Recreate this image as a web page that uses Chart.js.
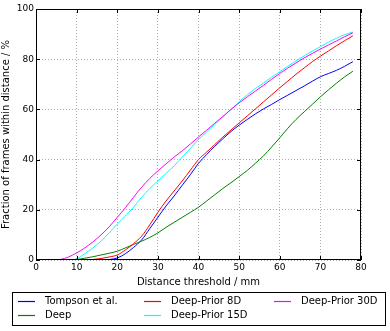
<!DOCTYPE html>
<html>
<head>
<meta charset="utf-8">
<script src="https://cdn.jsdelivr.net/npm/chart.js@4.4.1/dist/chart.umd.min.js"></script>
<style>
  html, body { margin: 0; padding: 0; background: #fff; }
  #wrap { width: 390px; height: 331px; }
</style>
</head>
<body>
<div id="wrap"><canvas id="chart" width="390" height="331"></canvas></div>
<script>
// distance thresholds (mm), one sample every 2 mm
const thresholds = [0, 2, 4, 6, 8, 10, 12, 14, 16, 18, 20, 22, 24, 26, 28, 30, 32, 34, 36, 38,
  40, 42, 44, 46, 48, 50, 52, 54, 56, 58, 60, 62, 64, 66, 68, 70, 72, 74, 76, 78];

const tompson = [0, 0, 0, 0, 0, 0, 0, 0, 0, 0.2, 0.8, 2.5, 5, 8, 12.5, 17, 21.5, 25.5, 29.8, 34,
  38.5, 42, 45.3, 48.3, 51.2, 53.7, 56, 58.2, 60.2, 62, 63.9, 65.7, 67.5, 69.3, 71.2, 73, 74.3, 75.6, 77.2, 79];
const deep = [0, 0, 0, 0, 0, 0.2, 0.7, 1.3, 2, 2.7, 3.5, 4.8, 6.2, 7.5, 9, 10.8, 13, 15, 17, 19,
  21, 23.5, 26, 28.5, 30.8, 33.2, 35.7, 38.5, 41.5, 45, 48.7, 52.5, 56, 59, 62, 65, 67.8, 70.5, 73, 75.2];
const prior8 = [0, 0, 0, 0, 0, 0, 0, 0.2, 0.6, 1.2, 2, 4, 6.5, 9.5, 14, 19, 23.5, 27.5, 31.5, 35.8,
  40, 43, 46, 49, 51.8, 54.6, 57.4, 60.2, 63, 65.8, 68.6, 71.3, 74, 76.5, 79, 81.2, 83.3, 85.4, 87.4, 89.3];
const prior15 = [0, 0, 0, 0, 0, 0.5, 2.5, 4.8, 7.5, 10.8, 14.3, 17.5, 21, 25, 28.5, 31.5, 34.5, 37.5, 41, 44.5,
  48, 51, 54, 57, 60, 63, 65.8, 68.3, 70.5, 72.8, 75, 77.2, 79.3, 81.3, 83.2, 85, 86.8, 88.4, 89.8, 90.8];
const prior30 = [0, 0, 0, 0.2, 1.2, 2.8, 4.8, 7.2, 10, 13.2, 17, 20.8, 25, 29, 32.5, 35.5, 38.3, 41, 43.5, 46.2,
  49, 51.7, 54.5, 57.2, 60, 62.6, 65, 67.3, 69.6, 72, 74.3, 76.5, 78.5, 80.5, 82.3, 84, 85.7, 87.3, 89, 90.5];

const seriesLabels = ['Tompson et al.', 'Deep', 'Deep-Prior 8D', 'Deep-Prior 15D', 'Deep-Prior 30D'];
const seriesValues = [tompson, deep, prior8, prior15, prior30];
const seriesColors = ['#0000ff', '#008000', '#ff0000', '#00ffff', '#ff00ff'];

const FONT = 'DejaVu Sans';

// frame round the plot area plus matplotlib-style inward ticks
const framePlugin = {
  id: 'frame',
  afterDraw(chart) {
    const { ctx, chartArea: a, scales } = chart;
    ctx.save();
    ctx.strokeStyle = '#000';
    ctx.lineWidth = 1;
    ctx.strokeRect(a.left + 0.5, a.top + 0.5, a.right - a.left - 1, a.bottom - a.top - 1);
    ctx.beginPath();
    scales.x.ticks.forEach(t => {
      const px = Math.round(scales.x.getPixelForValue(t.value)) + 0.5;
      ctx.moveTo(px, a.bottom); ctx.lineTo(px, a.bottom - 4);
      ctx.moveTo(px, a.top); ctx.lineTo(px, a.top + 4);
    });
    scales.y.ticks.forEach(t => {
      const py = Math.round(scales.y.getPixelForValue(t.value)) + 0.5;
      ctx.moveTo(a.left, py); ctx.lineTo(a.left + 4, py);
      ctx.moveTo(a.right, py); ctx.lineTo(a.right - 4, py);
    });
    ctx.stroke();
    ctx.restore();
  }
};

// boxed legend below the axis, three columns filled column by column
const legendPlugin = {
  id: 'boxLegend',
  afterDraw(chart) {
    const { ctx } = chart;
    const colX = [18, 144, 274];
    const rowY = [301, 315];
    ctx.save();
    ctx.lineWidth = 1;
    ctx.strokeStyle = '#000';
    ctx.strokeRect(12.5, 292.5, 373, 33);
    ctx.font = '10px ' + FONT;
    ctx.textBaseline = 'middle';
    seriesLabels.forEach((label, i) => {
      const col = Math.floor(i / 2);
      const row = i % 2;
      const x = colX[col];
      const y = rowY[row] + 0.5;
      ctx.strokeStyle = seriesColors[i];
      ctx.lineWidth = 1.2;
      ctx.beginPath();
      ctx.moveTo(x, y);
      ctx.lineTo(x + 17, y);
      ctx.stroke();
      ctx.fillStyle = '#000';
      ctx.fillText(label, x + 27, rowY[row]);
    });
    ctx.restore();
  }
};

const ctx = document.getElementById('chart').getContext('2d');

new Chart(ctx, {
  type: 'line',
  data: {
    datasets: seriesLabels.map((label, i) => ({
      label: label,
      data: thresholds.map((t, j) => ({ x: t, y: seriesValues[i][j] })),
      borderColor: seriesColors[i],
      backgroundColor: seriesColors[i],
      borderWidth: 1,
      pointRadius: 0,
      cubicInterpolationMode: 'monotone',
      order: seriesLabels.length - i
    }))
  },
  options: {
    responsive: false,
    animation: false,
    layout: {
      padding: { left: 0, right: 29, top: 9, bottom: 43 }
    },
    plugins: {
      legend: { display: false },
      tooltip: { enabled: false }
    },
    scales: {
      x: {
        type: 'linear',
        min: 0,
        max: 80,
        ticks: {
          stepSize: 10,
          color: '#000',
          padding: 2,
          font: { family: FONT, size: 9 }
        },
        title: {
          display: true,
          text: 'Distance threshold / mm',
          color: '#000',
          padding: { top: 0, bottom: 0 },
          font: { family: FONT, size: 10 }
        },
        grid: {
          color: '#999',
          lineWidth: 0.8,
          drawTicks: false
        },
        border: { display: false, dash: [1, 2] },
        afterFit(scale) { scale.height = 28; }
      },
      y: {
        min: 0,
        max: 100,
        ticks: {
          stepSize: 20,
          color: '#000',
          padding: 2,
          font: { family: FONT, size: 9 }
        },
        title: {
          display: true,
          text: 'Fraction of frames within distance / %',
          color: '#000',
          padding: { top: 0, bottom: 1 },
          font: { family: FONT, size: 10 }
        },
        grid: {
          color: '#999',
          lineWidth: 0.8,
          drawTicks: false
        },
        border: { display: false, dash: [1, 2] },
        afterFit(scale) { scale.width = 36; }
      }
    }
  },
  plugins: [framePlugin, legendPlugin]
});
</script>
</body>
</html>
